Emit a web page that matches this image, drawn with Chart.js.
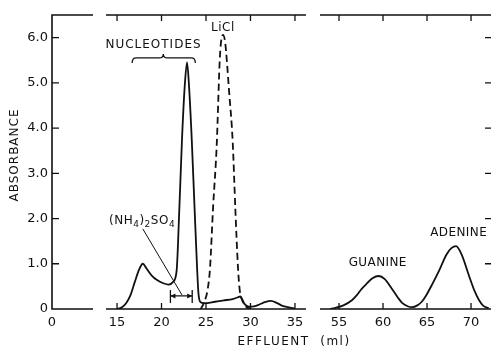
<!DOCTYPE html>
<html>
<head>
<meta charset="utf-8">
<script src="https://cdn.jsdelivr.net/npm/chart.js@4/dist/chart.umd.min.js"></script>
<style>
  html, body { margin:0; padding:0; background:#fff; }
  #wrap { position:relative; width:491px; height:347px; background:#fff; }
  #wrap canvas { position:absolute; left:0; top:0; }
</style>
</head>
<body>
<div id="wrap">
  <canvas id="cA" width="491" height="347"></canvas>
  <canvas id="cB" width="491" height="347"></canvas>
  <canvas id="cC" width="491" height="347"></canvas>
</div>
<script>
// ---- data ----
const effluentSolid = [15.0, 15.5, 16.0, 16.5, 17.0, 17.5, 17.9, 18.3, 18.9, 19.5, 20.2, 20.8, 21.3, 21.7, 22.0, 22.3, 22.6, 22.87, 23.1, 23.4, 23.7, 24.0, 24.15, 24.35, 24.8, 26.0, 27.0, 28.0, 28.6, 28.85, 29.3, 29.8, 30.4, 31.0, 31.6, 32.3, 33.0, 33.6, 34.2, 35.0];
const absorbanceSolid = [0.0, 0.03, 0.12, 0.3, 0.6, 0.88, 1.0, 0.9, 0.74, 0.64, 0.57, 0.54, 0.6, 0.85, 2.2, 3.74, 4.9, 5.45, 4.9, 3.74, 2.3, 0.9, 0.35, 0.16, 0.13, 0.16, 0.19, 0.22, 0.26, 0.28, 0.12, 0.05, 0.06, 0.1, 0.15, 0.18, 0.13, 0.07, 0.04, 0.01];

const effluentLiCl = [24.4, 24.8, 25.2, 25.45, 25.8, 26.2, 26.57, 26.9, 27.15, 27.6, 28.0, 28.3, 28.6, 28.8, 29.1, 29.5, 30.0];
const absorbanceLiCl = [0.0, 0.15, 0.45, 0.9, 2.26, 3.6, 5.6, 6.06, 5.9, 4.8, 3.7, 2.2, 0.9, 0.4, 0.18, 0.05, 0.0];

const effluentBases = [54.0, 54.5, 55.5, 56.5, 57.0, 57.6, 58.2, 58.8, 59.5, 60.2, 61.1, 61.7, 62.2, 62.8, 63.3, 63.9, 64.4, 64.9, 65.6, 66.4, 67.2, 67.8, 68.3, 68.9, 69.8, 70.4, 70.9, 71.4, 72.0];
const absorbanceBases = [0.0, 0.02, 0.08, 0.2, 0.3, 0.45, 0.57, 0.68, 0.73, 0.66, 0.42, 0.25, 0.13, 0.06, 0.04, 0.08, 0.16, 0.3, 0.55, 0.86, 1.2, 1.35, 1.39, 1.22, 0.72, 0.4, 0.2, 0.07, 0.02];

const xTicksLeft = [0];
const xTicksMiddle = [15, 20, 25, 30, 35];
const xTicksRight = [55, 60, 65, 70];
const yTicks = [0, 1, 2, 3, 4, 5, 6];

const xRangeLeft = [0, 4.6];
const xRangeMiddle = [13.76, 36.24];
const xRangeRight = [52.84, 72.27];
const yRange = [0, 6.5];

// ---- helpers ----
const FONT = '"DejaVu Sans", "Liberation Sans", sans-serif';
const INK = '#111';

function pts(xs, ys) { return xs.map((x, i) => ({ x: x, y: ys[i] })); }

function setTicks(values) {
  return function (scale) { scale.ticks = values.map(v => ({ value: v })); };
}

function yScale(display) {
  return {
    type: 'linear', min: yRange[0], max: yRange[1], display: display,
    afterBuildTicks: setTicks(yTicks),
    afterFit: function (s) { if (display) s.width = 52; },
    grid: { display: false, drawTicks: false }, border: { display: false },
    ticks: { color: INK, font: { family: FONT, size: 13 }, padding: 4,
      callback: v => v === 0 ? '0' : v.toFixed(1) }
  };
}
function xScale(range, ticks) {
  return {
    type: 'linear', min: range[0], max: range[1],
    afterBuildTicks: setTicks(ticks),
    afterFit: function (s) { s.height = 38; },
    grid: { display: false, drawTicks: false }, border: { display: false },
    ticks: { color: INK, font: { family: FONT, size: 13 }, padding: 6, maxRotation: 0,
      autoSkip: false, callback: v => String(v) }
  };
}

// frame plugin: axis lines + inward tick marks, using the chart's own scales
function framePlugin(opts) {
  return {
    id: 'frame',
    afterDraw(chart) {
      const ctx = chart.ctx, a = chart.chartArea, xs = chart.scales.x, ys = chart.scales.y;
      ctx.save();
      ctx.strokeStyle = INK; ctx.lineWidth = 1.6; ctx.lineCap = 'butt';
      ctx.beginPath();
      ctx.moveTo(a.left, a.top); ctx.lineTo(a.right, a.top);
      ctx.moveTo(a.left, a.bottom); ctx.lineTo(a.right, a.bottom);
      if (opts.leftAxis) { ctx.moveTo(a.left, a.top - 0.8); ctx.lineTo(a.left, a.bottom + 0.8); }
      ctx.stroke();
      ctx.lineWidth = 1.3;
      ctx.beginPath();
      if (opts.xTicks) {
        opts.xTicks.forEach(v => {
          const px = xs.getPixelForValue(v);
          ctx.moveTo(px, a.bottom); ctx.lineTo(px, a.bottom - 6);
          ctx.moveTo(px, a.top); ctx.lineTo(px, a.top + 6);
        });
      }
      if (opts.leftAxis) {
        yTicks.forEach(v => { if (v === 0) return; const py = ys.getPixelForValue(v);
          ctx.moveTo(a.left, py); ctx.lineTo(a.left + 7, py); });
      }
      if (opts.rightTicks) {
        yTicks.forEach(v => { if (v === 0) return; const py = ys.getPixelForValue(v);
          ctx.moveTo(a.right, py); ctx.lineTo(a.right - 6, py); });
      }
      ctx.stroke();
      if (opts.annotate) opts.annotate(chart, ctx);
      ctx.restore();
    }
  };
}

function label(ctx, text, x, y, size, align, spacing) {
  ctx.font = size + 'px ' + FONT;
  ctx.fillStyle = INK;
  ctx.textAlign = align || 'center';
  ctx.textBaseline = 'middle';
  ctx.letterSpacing = (spacing || 0) + 'px';
  ctx.fillText(text, x, y);
  ctx.letterSpacing = '0px';
}

function baseOptions(padding, scales) {
  return {
    responsive: false, animation: false, devicePixelRatio: 1,
    layout: { padding: padding },
    plugins: { legend: { display: false }, tooltip: { enabled: false } },
    scales: scales,
    elements: { point: { radius: 0 } }
  };
}

// ---- Chart A: y axis + "0" stub ----
new Chart(document.getElementById('cA'), {
  type: 'line',
  data: { datasets: [] },
  options: baseOptions({ left: 0, right: 398, top: 15, bottom: 0 },
    { x: xScale(xRangeLeft, xTicksLeft), y: yScale(true) }),
  plugins: [framePlugin({ leftAxis: true, annotate(chart, ctx) {
    ctx.save();
    ctx.translate(15, 155);
    ctx.rotate(-Math.PI / 2);
    label(ctx, 'ABSORBANCE', 0, 0, 12, 'center', 1);
    ctx.restore();
  } })]
});

// ---- Chart B: nucleotide / LiCl region ----
new Chart(document.getElementById('cB'), {
  type: 'line',
  data: { datasets: [
    { data: pts(effluentSolid, absorbanceSolid), borderColor: INK, borderWidth: 1.8,
      tension: 0.35, cubicInterpolationMode: 'monotone', fill: false },
    { data: pts(effluentLiCl, absorbanceLiCl), borderColor: INK, borderWidth: 1.8,
      borderDash: [7, 4], tension: 0.35, cubicInterpolationMode: 'monotone', fill: false }
  ] },
  options: baseOptions({ left: 106, right: 185, top: 15, bottom: 0 },
    { x: xScale(xRangeMiddle, xTicksMiddle), y: yScale(false) }),
  plugins: [framePlugin({ xTicks: xTicksMiddle, annotate(chart, ctx) {
    const X = v => chart.scales.x.getPixelForValue(v);
    const Y = v => chart.scales.y.getPixelForValue(v);
    // NUCLEOTIDES + brace
    label(ctx, 'NUCLEOTIDES', X(19.1), Y(5.84), 12, 'center', 1);
    const bx1 = X(16.7), bx2 = X(23.8), bm = X(20.2), by = Y(5.55);
    ctx.lineWidth = 1.3; ctx.strokeStyle = INK;
    ctx.beginPath();
    ctx.moveTo(bx1, by + 5);
    ctx.quadraticCurveTo(bx1, by, bx1 + 4, by);
    ctx.lineTo(bm - 4, by);
    ctx.quadraticCurveTo(bm, by, bm, by - 4);
    ctx.quadraticCurveTo(bm, by, bm + 4, by);
    ctx.lineTo(bx2 - 4, by);
    ctx.quadraticCurveTo(bx2, by, bx2, by + 5);
    ctx.stroke();
    // LiCl
    label(ctx, 'LiCl', X(26.9), Y(6.22), 12, 'center', 0.5);
    // (NH4)2SO4
    let tx = X(14.1); const ty = Y(1.95);
    const parts = [['(NH', 12, 0], ['4', 9, 4], [')', 12, 0], ['2', 9, 4], ['SO', 12, 0], ['4', 9, 4]];
    ctx.textAlign = 'left'; ctx.textBaseline = 'middle'; ctx.fillStyle = INK;
    parts.forEach(p => {
      ctx.font = p[1] + 'px ' + FONT;
      ctx.letterSpacing = '0.5px';
      ctx.fillText(p[0], tx, ty + p[2]);
      tx += ctx.measureText(p[0]).width;
    });
    ctx.letterSpacing = '0px';
    // leader line
    ctx.lineWidth = 1;
    ctx.beginPath();
    ctx.moveTo(X(17.9), Y(1.77));
    ctx.lineTo(X(22.3), Y(0.31));
    ctx.stroke();
    // range bar |<->|
    const ax1 = X(21.0), ax2 = X(23.45), ay = Y(0.29);
    ctx.lineWidth = 1.3;
    ctx.beginPath();
    ctx.moveTo(ax1, ay - 6); ctx.lineTo(ax1, ay + 7);
    ctx.moveTo(ax2, ay - 6); ctx.lineTo(ax2, ay + 7);
    ctx.moveTo(ax1, ay); ctx.lineTo(ax2, ay);
    ctx.stroke();
    ctx.beginPath();
    ctx.moveTo(ax1, ay); ctx.lineTo(ax1 + 5, ay - 2.5); ctx.lineTo(ax1 + 5, ay + 2.5); ctx.closePath();
    ctx.moveTo(ax2, ay); ctx.lineTo(ax2 - 5, ay - 2.5); ctx.lineTo(ax2 - 5, ay + 2.5); ctx.closePath();
    ctx.fill();
    // x-axis title
    label(ctx, 'EFFLUENT  (ml)', 294, 342, 12, 'center', 1.5);
  } })]
});

// ---- Chart C: guanine / adenine region ----
new Chart(document.getElementById('cC'), {
  type: 'line',
  data: { datasets: [
    { data: pts(effluentBases, absorbanceBases), borderColor: INK, borderWidth: 1.8,
      tension: 0.35, cubicInterpolationMode: 'monotone', fill: false }
  ] },
  options: baseOptions({ left: 320, right: 0, top: 15, bottom: 0 },
    { x: xScale(xRangeRight, xTicksRight), y: yScale(false) }),
  plugins: [framePlugin({ xTicks: xTicksRight, rightTicks: true, annotate(chart, ctx) {
    const X = v => chart.scales.x.getPixelForValue(v);
    const Y = v => chart.scales.y.getPixelForValue(v);
    label(ctx, 'GUANINE', X(59.4), Y(1.02), 12, 'center', 0.4);
    label(ctx, 'ADENINE', X(68.6), Y(1.68), 12, 'center', 0.4);
  } })]
});
</script>
</body>
</html>
